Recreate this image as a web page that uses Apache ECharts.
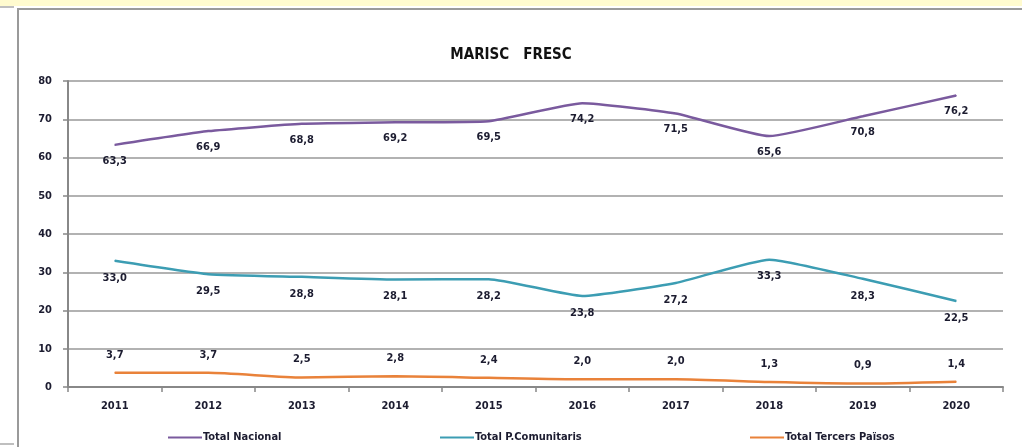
<!DOCTYPE html>
<html lang="ca">
<head>
    <meta charset="UTF-8" />
    <title>Marisc fresc</title>
    <script src="https://cdn.jsdelivr.net/npm/echarts@6/dist/echarts.min.js"></script>
    <style>
        html, body { margin: 0; padding: 0; background: #fff; }
        #chart { width: 1022px; height: 447px; }
    </style>
</head>
<body>
    <div id="chart"></div>

    <script>
        // dades
        const anys = ["2011", "2012", "2013", "2014", "2015", "2016", "2017", "2018", "2019", "2020"];
        const totalNacional = [63.3, 66.9, 68.8, 69.2, 69.5, 74.2, 71.5, 65.6, 70.8, 76.2];
        const totalComunitaris = [33.0, 29.5, 28.8, 28.1, 28.2, 23.8, 27.2, 33.3, 28.3, 22.5];
        const totalTercers = [3.7, 3.7, 2.5, 2.8, 2.4, 2.0, 2.0, 1.3, 0.9, 1.4];
        const nomsSeries = ["Total Nacional", "Total P.Comunitaris", "Total Tercers Països"];

        const font = "'Liberation Sans Narrow', 'DejaVu Sans Condensed', 'Liberation Sans', sans-serif";
        const textColor = "#1c1c30";

        // format amb coma decimal
        const fmt = p => p.value.toFixed(1).replace(".", ",");

        let chart = echarts.init(document.getElementById("chart"), null, { renderer: "canvas" });

        function legendFor(name, left) {
            return {
                data: [name],
                left: left,
                top: 427,
                itemWidth: 34,
                itemHeight: 3,
                itemGap: 0,
                itemStyle: { opacity: 0 },
                textStyle: { fontFamily: font, fontWeight: "bold", fontSize: 11, color: textColor, padding: [0, 0, 0, -4] }
            };
        }

        function labelStyle(pos, dist) {
            return {
                show: true,
                position: pos,
                distance: dist,
                formatter: fmt,
                fontFamily: font,
                fontWeight: "bold",
                fontSize: 11,
                color: textColor
            };
        }

        function lineSeries(name, data, color, smooth, label) {
            return {
                name: name,
                type: "line",
                data: data,
                symbol: "circle",
                symbolSize: 1,
                showSymbol: true,
                smooth: smooth,
                lineStyle: { color: color, width: 2.5 },
                itemStyle: { color: color },
                label: label
            };
        }

        let option = {
            animation: false,
            title: {
                text: "MARISC   FRESC",
                left: "center",
                top: 43,
                textStyle: { fontFamily: font, fontWeight: "bold", fontSize: 15, color: "#111" }
            },
            legend: [
                legendFor(nomsSeries[0], 162),
                legendFor(nomsSeries[1], 434),
                legendFor(nomsSeries[2], 744)
            ],
            grid: { left: 68, right: 19, top: 81, bottom: 60 },
            xAxis: {
                type: "category",
                data: anys,
                boundaryGap: true,
                axisLine: { lineStyle: { color: "#888", width: 2 } },
                axisTick: { show: true, alignWithLabel: false, length: 5, lineStyle: { color: "#888", width: 1.5 } },
                axisLabel: { fontFamily: font, fontWeight: "bold", fontSize: 11, color: textColor, margin: 14 }
            },
            yAxis: {
                type: "value",
                min: 0,
                max: 80,
                interval: 10,
                axisLine: { show: true, lineStyle: { color: "#888", width: 2 } },
                axisTick: { show: true, length: 5, lineStyle: { color: "#888", width: 1.5 } },
                axisLabel: { fontFamily: font, fontWeight: "bold", fontSize: 11, color: textColor, margin: 16 },
                splitLine: { lineStyle: { color: "#999", width: 1.5 } }
            },
            series: [
                lineSeries(nomsSeries[0], totalNacional, "#7a5a9e", 0.15, labelStyle("bottom", 10)),
                lineSeries(nomsSeries[1], totalComunitaris, "#3c9db3", 0.15, labelStyle("bottom", 11)),
                lineSeries(nomsSeries[2], totalTercers, "#e9823a", 0.2, labelStyle("top", 12))
            ],
            graphic: [
                // franja groga i marc
                { type: "rect", shape: { x: 0, y: 0, width: 1022, height: 6 }, style: { fill: "#fffbcf" }, silent: true },
                { type: "line", shape: { x1: 17, y1: 9, x2: 1022, y2: 9 }, style: { stroke: "#9a9a9a", lineWidth: 2 }, silent: true },
                { type: "line", shape: { x1: 18, y1: 9, x2: 18, y2: 447 }, style: { stroke: "#9a9a9a", lineWidth: 2 }, silent: true },
                { type: "line", shape: { x1: 0, y1: 7, x2: 14, y2: 7 }, style: { stroke: "#aaa", lineWidth: 1.5 }, silent: true },
                { type: "line", shape: { x1: 0, y1: 444, x2: 14, y2: 444 }, style: { stroke: "#aaa", lineWidth: 1.5 }, silent: true }
            ]
        };

        chart.setOption(option);
    </script>
</body>
</html>
